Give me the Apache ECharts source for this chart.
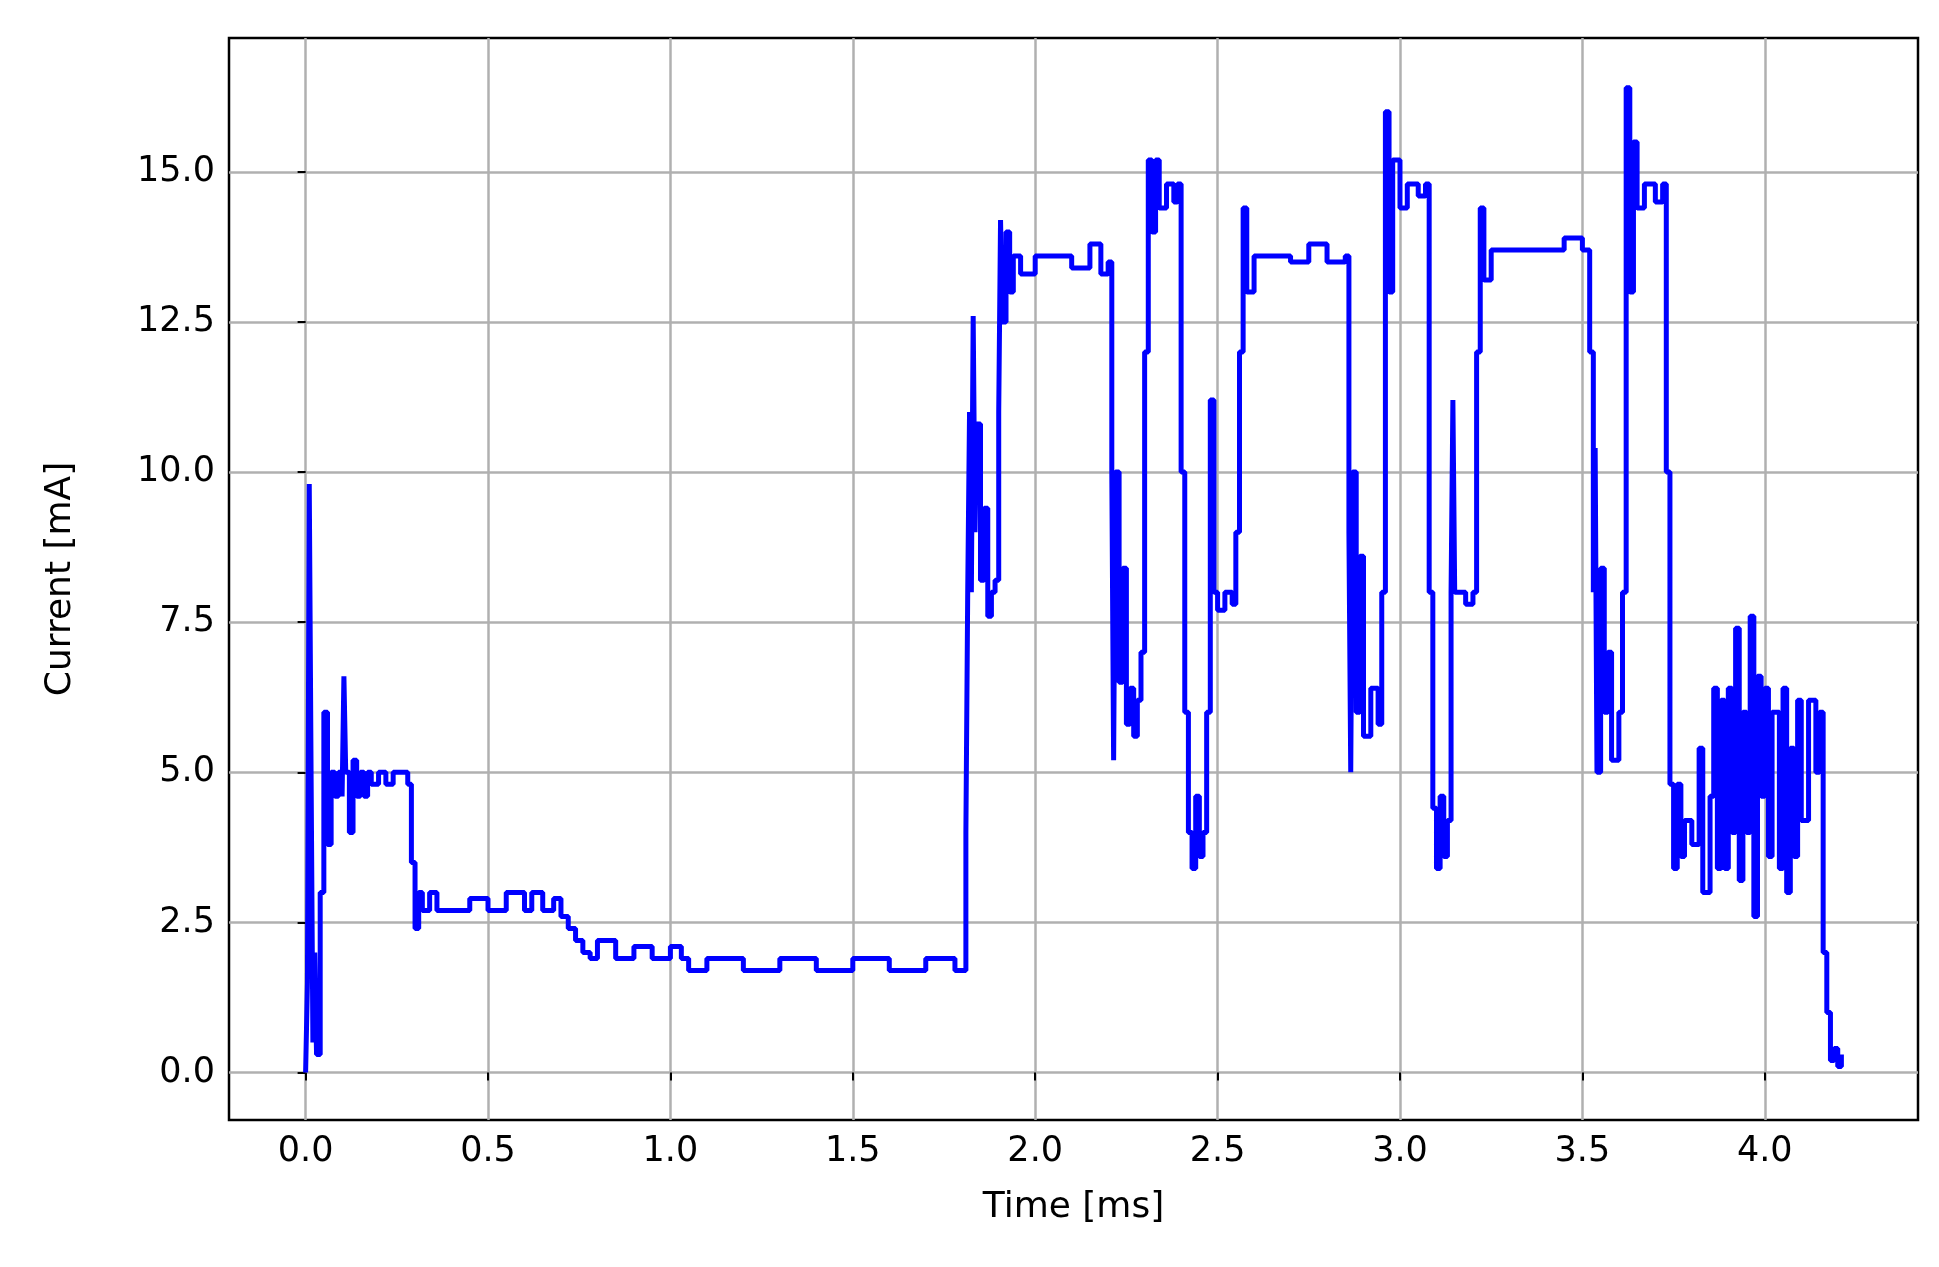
<!DOCTYPE html><html><head><meta charset="utf-8"><script src="https://cdn.jsdelivr.net/npm/echarts@6/dist/echarts.min.js"></script>
<style>html,body{margin:0;background:#fff}#c{width:1939px;height:1267px}</style></head><body><div id="c"></div><script>
const times=[0,0.005,0.01,0.015,0.02,0.025,0.03,0.04,0.05,0.06,0.07,0.08,0.09,0.1,0.105,0.11,0.12,0.13,0.14,0.15,0.16,0.17,0.18,0.2,0.22,0.24,0.26,0.28,0.29,0.3,0.31,0.32,0.34,0.36,0.4,0.45,0.5,0.55,0.6,0.62,0.65,0.68,0.7,0.72,0.74,0.76,0.78,0.8,0.85,0.9,0.95,1.0,1.03,1.05,1.1,1.2,1.3,1.4,1.5,1.6,1.7,1.78,1.8,1.81,1.815,1.82,1.825,1.83,1.835,1.84,1.85,1.86,1.87,1.88,1.89,1.9,1.905,1.91,1.92,1.93,1.94,1.96,2.0,2.1,2.15,2.18,2.2,2.21,2.215,2.22,2.23,2.24,2.25,2.26,2.27,2.28,2.29,2.3,2.31,2.32,2.33,2.34,2.36,2.38,2.39,2.4,2.41,2.42,2.43,2.44,2.45,2.46,2.47,2.48,2.49,2.5,2.52,2.54,2.55,2.56,2.57,2.58,2.6,2.7,2.75,2.8,2.85,2.86,2.865,2.87,2.88,2.89,2.9,2.92,2.94,2.95,2.96,2.97,2.98,3.0,3.02,3.05,3.07,3.08,3.09,3.1,3.11,3.12,3.13,3.14,3.145,3.15,3.18,3.2,3.21,3.22,3.23,3.25,3.4,3.45,3.5,3.52,3.53,3.535,3.54,3.55,3.56,3.57,3.58,3.6,3.61,3.62,3.63,3.64,3.65,3.67,3.7,3.72,3.73,3.74,3.75,3.76,3.77,3.78,3.8,3.82,3.83,3.85,3.86,3.87,3.88,3.89,3.9,3.91,3.92,3.93,3.94,3.95,3.96,3.97,3.98,3.99,4.0,4.01,4.02,4.04,4.05,4.06,4.07,4.08,4.09,4.1,4.12,4.14,4.15,4.16,4.17,4.18,4.19,4.2,4.21];
const current=[0,1.5,9.8,5,0.5,2,0.3,3,6,3.8,5,4.6,5,4.6,6.6,5,4,5.2,4.6,5,4.6,5,4.8,5,4.8,5,5,4.8,3.5,2.4,3,2.7,3,2.7,2.7,2.9,2.7,3,2.7,3,2.7,2.9,2.6,2.4,2.2,2.0,1.9,2.2,1.9,2.1,1.9,2.1,1.9,1.7,1.9,1.7,1.9,1.7,1.9,1.7,1.9,1.7,1.7,4,8,11,8,12.6,9,10.8,8.2,9.4,7.6,8,8.2,11,14.2,12.5,14,13,13.6,13.3,13.6,13.4,13.8,13.3,13.5,10,5.2,10,6.5,8.4,5.8,6.4,5.6,6.2,7,12,15.2,14,15.2,14.4,14.8,14.5,14.8,10,6,4,3.4,4.6,3.6,4,6,11.2,8,7.7,8,7.8,9,12,14.4,13,13.6,13.5,13.8,13.5,13.6,9,5,10,6,8.6,5.6,6.4,5.8,8,16,13,15.2,14.4,14.8,14.6,14.8,8,4.4,3.4,4.6,3.6,4.2,8,11.2,8,7.8,8,12,14.4,13.2,13.7,13.7,13.9,13.7,12,8,10.4,5,8.4,6,7,5.2,6,8,16.4,13,15.5,14.4,14.8,14.5,14.8,10,4.8,3.4,4.8,3.6,4.2,3.8,5.4,3,4.6,6.4,3.4,6.2,3.4,6.4,4,7.4,3.2,6,4,7.6,2.6,6.6,4.6,6.4,3.6,6,3.4,6.4,3,5.4,3.6,6.2,4.2,6.2,5,6,2,1,0.2,0.4,0.1,0.3];
const xTicks=[0,0.5,1,1.5,2,2.5,3,3.5,4];
const yTicks=[0,2.5,5,7.5,10,12.5,15];
const data=times.map((t,i)=>[t,current[i]]);
const ch=echarts.init(document.getElementById('c'));
const lbl={fontSize:35,color:'#000',fontFamily:'DejaVu Sans',formatter:v=>v.toFixed(1)};
ch.setOption({animation:false,
grid:{left:229,right:21,top:38,bottom:147,show:true,borderColor:'#000',borderWidth:2.5,backgroundColor:'transparent'},
xAxis:{type:'value',min:-0.21,max:4.42,name:'Time [ms]',nameLocation:'middle',nameGap:70,nameTextStyle:{fontSize:36,color:'#000',fontFamily:'DejaVu Sans'},
axisLine:{show:false},axisTick:{show:true,length:8,lineStyle:{color:'#000',width:2},customValues:xTicks},
axisLabel:Object.assign({customValues:xTicks,margin:14},lbl),splitLine:{show:true,lineStyle:{color:'#b0b0b0',width:2.5}}},
yAxis:{type:'value',min:-0.79,max:17.23,name:'Current [mA]',nameLocation:'middle',nameGap:150,nameTextStyle:{fontSize:36,color:'#000',fontFamily:'DejaVu Sans'},
axisLine:{show:false},axisTick:{show:true,length:8,lineStyle:{color:'#000',width:2},customValues:yTicks},
axisLabel:Object.assign({customValues:yTicks,margin:14},lbl),splitLine:{show:true,lineStyle:{color:'#b0b0b0',width:2.5}}},
series:[{type:'line',step:'end',data:data,showSymbol:false,lineStyle:{color:'#0000ff',width:5},itemStyle:{color:'#0000ff'}}]});
</script></body></html>
